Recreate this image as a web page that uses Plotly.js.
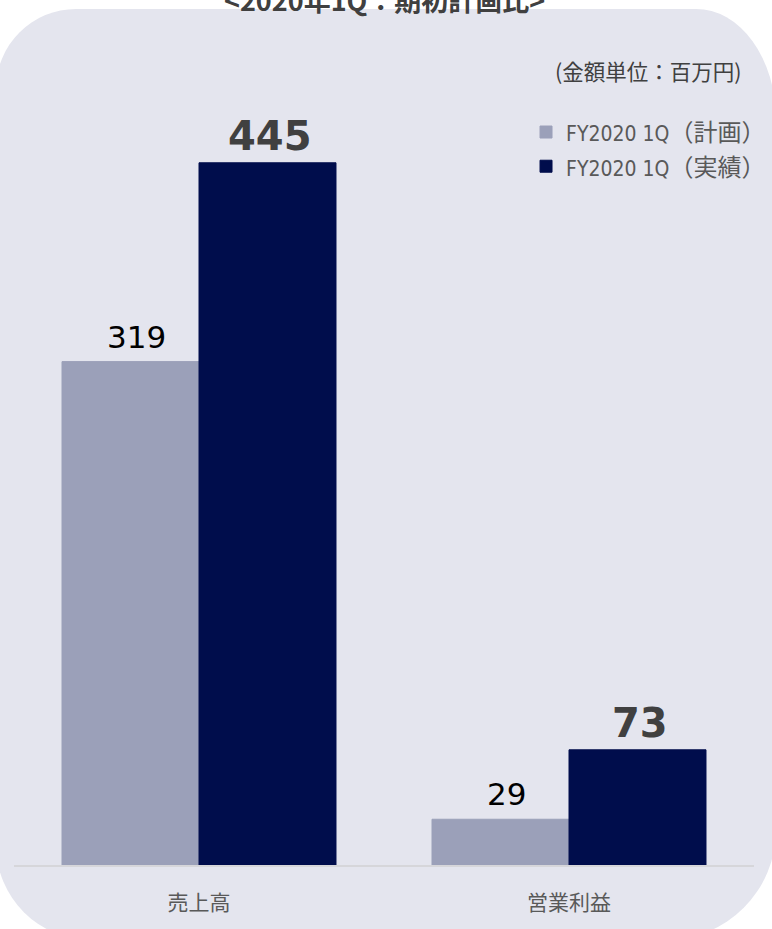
<!DOCTYPE html>
<html>
<head>
<meta charset="utf-8">
<script src="https://cdn.plot.ly/plotly-3.0.1.min.js"></script>
<style>
  html, body { margin:0; padding:0; background:#ffffff; width:772px; height:929px; overflow:hidden; }
  #bg { position:absolute; left:-4px; top:9px; width:780px; height:931px; background:#e4e5ee;
        border-radius:80px 80px 110px 95px / 80px 110px 110px 95px; }
  #chart { position:absolute; left:0; top:0; width:772px; height:929px; }
</style>
</head>
<body>
<div id="bg"></div>
<div id="chart"></div>
<script>
const categories = ["売上高", "営業利益"];
const seriesPrefix = "FY2020 1Q";
const planSuffix = "（計画）";
const actualSuffix = "（実績）";
const planValues = [319, 29];
const actualValues = [445, 73];
const titleText = "<2020年1Q：期初計画比>";
const unitText = "(金額単位：百万円)";

const latin = "DejaVu Sans, 'Noto Sans CJK JP', sans-serif";
const cjk = "'Noto Sans CJK JP', sans-serif";
const legendName = suffix => "<span style=\"font-family:'Liberation Sans Narrow','DejaVu Sans Condensed','DejaVu Sans';font-size:21px\">" + seriesPrefix + "</span>" + suffix;

const traces = [
  { type:"bar", name:legendName(planSuffix), x:categories, y:planValues,
    marker:{color:"#9ba0b9", line:{color:"#9ba0b9", width:1}}, hoverinfo:"skip" },
  { type:"bar", name:legendName(actualSuffix), x:categories, y:actualValues,
    marker:{color:"#000d4c", line:{color:"#000d4c", width:1}}, hoverinfo:"skip" }
];

const annotations = [];
categories.forEach((c, i) => {
  annotations.push({ x:c, y:planValues[i], xref:"x", yref:"y", xshift:-63, yshift:5,
    text:String(planValues[i]), showarrow:false, xanchor:"center", yanchor:"bottom",
    font:{family:latin, size:31, color:"#000000"} });
  annotations.push({ x:c, y:actualValues[i], xref:"x", yref:"y", xshift:71, yshift:2,
    text:"<b>"+actualValues[i]+"</b>", showarrow:false, xanchor:"center", yanchor:"bottom",
    font:{family:latin, size:40, color:"#404040"} });
});
annotations.push({ x:0.4894, y:1.0975, xref:"paper", yref:"paper", text:"<b>"+titleText.replace(/</g,"&lt;").replace(/>/g,"&gt;")+"</b>",
  showarrow:false, xanchor:"center", yanchor:"middle", font:{family:cjk, size:27, color:"#404040"} });
annotations.push({ x:0.9631, y:1.0076, xref:"paper", yref:"paper", text:unitText,
  showarrow:false, xanchor:"right", yanchor:"middle", font:{family:cjk, size:21.5, color:"#404040"} });

const layout = {
  width:772, height:929,
  margin:{l:14, r:0, t:76, b:64},
  paper_bgcolor:"rgba(0,0,0,0)", plot_bgcolor:"rgba(0,0,0,0)",
  barmode:"group", bargap:0.2595, bargroupgap:0,
  showlegend:true,
  legend:{ x:0.6755, xanchor:"left", y:0.957, yanchor:"top", bgcolor:"rgba(0,0,0,0)",
    font:{family:cjk, size:24, color:"#595959"}, traceorder:"normal" },
  xaxis:{ type:"category", domain:[0, 0.97625], showgrid:false, zeroline:false, showline:true, linecolor:"#d6d6da", linewidth:2,
    ticks:"", ticklabelstandoff:18, tickfont:{family:cjk, size:21, color:"#595959"}, fixedrange:true },
  yaxis:{ range:[0,500], visible:false, showgrid:false, zeroline:false, fixedrange:true },
  annotations:annotations
};

Plotly.newPlot("chart", traces, layout, {displayModeBar:false, staticPlot:true});
</script>
</body>
</html>
